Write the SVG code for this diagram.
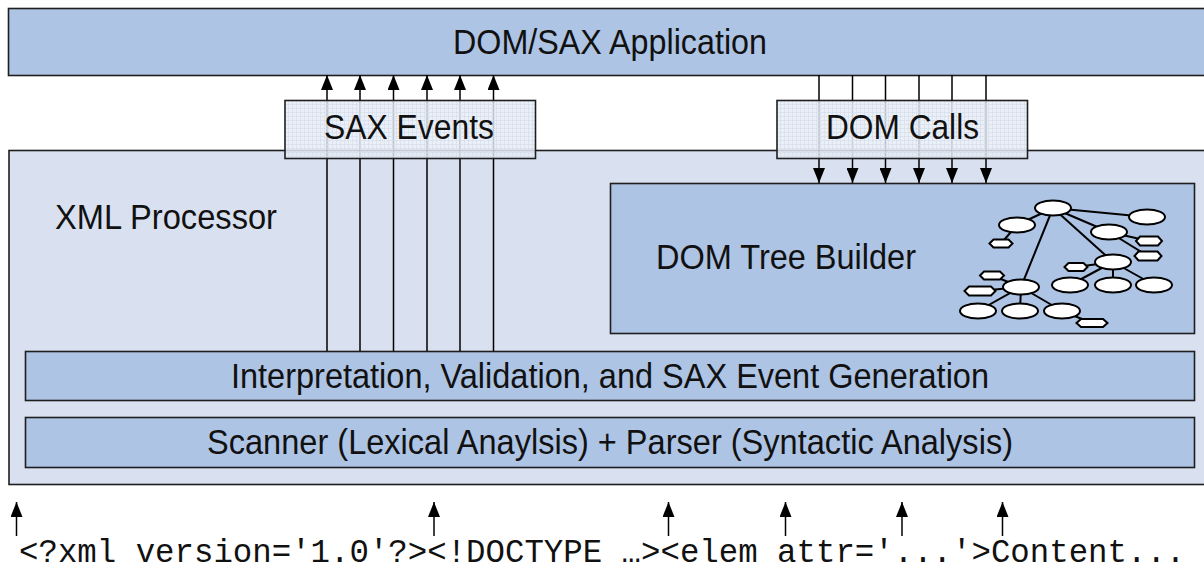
<svg xmlns="http://www.w3.org/2000/svg" width="1204" height="572" viewBox="0 0 1204 572">
<style>
.box{stroke:#1e1e1e;stroke-width:1.6}
.dark{fill:#aec4e4}
.light{fill:#d9e1f1}
.lbl{font-family:"Liberation Sans",Arial,sans-serif;font-size:35px;fill:#111}
.conn{stroke:#000;stroke-width:1.5;fill:none}
.tree line{stroke:#000;stroke-width:2}
.tree ellipse,.tree polygon{fill:#fff;stroke:#000;stroke-width:2}
.code{font-family:"Liberation Mono","Courier New",monospace;font-size:32.4px;fill:#111}
</style>
<defs>
<marker id="ahd" markerUnits="userSpaceOnUse" markerWidth="12" markerHeight="15" viewBox="0 0 12 15" refX="6" refY="15" orient="0">
<path d="M0,0 L12,0 L6,15 Z" fill="#000"/>
</marker>
<marker id="ahu" markerUnits="userSpaceOnUse" markerWidth="12" markerHeight="15" viewBox="0 0 12 15" refX="6" refY="0" orient="0">
<path d="M0,15 L6,0 L12,15 Z" fill="#000"/>
</marker>
<pattern id="grid" width="4" height="4" patternUnits="userSpaceOnUse">
<rect width="4" height="4" fill="#e6ecf6" fill-opacity="0.82"/>
<path d="M0,0.5 H4 M0.5,0 V4" stroke="#d3dbe9" stroke-width="1" stroke-opacity="0.6"/>
</pattern>
</defs>

<g id="app">
<rect class="box dark" x="8.5" y="8.5" width="1210" height="67"/>
<text class="lbl" x="453" y="54" textLength="314" lengthAdjust="spacingAndGlyphs">DOM/SAX Application</text>
</g>

<g id="xml-processor">
<rect class="box light" x="9" y="150.5" width="1210" height="334"/>
<text class="lbl" x="55" y="229" textLength="222" lengthAdjust="spacingAndGlyphs">XML Processor</text>
</g>

<g id="dom-tree-builder">
<rect class="box dark" x="610.5" y="183.5" width="584" height="150"/>
<text class="lbl" x="656" y="269" textLength="260" lengthAdjust="spacingAndGlyphs">DOM Tree Builder</text>
<g class="tree">
<line x1="1053" y1="208" x2="1017" y2="225"/>
<line x1="1053" y1="208" x2="1147" y2="217"/>
<line x1="1053" y1="208" x2="1109" y2="232"/>
<line x1="1053" y1="208" x2="1113" y2="262"/>
<line x1="1053" y1="208" x2="1021" y2="287"/>
<line x1="1017" y1="225" x2="1001" y2="243.5"/>
<line x1="1109" y1="232" x2="1149" y2="241"/>
<line x1="1109" y1="232" x2="1148" y2="256"/>
<line x1="1113" y1="262" x2="1076" y2="267"/>
<line x1="1113" y1="262" x2="1070" y2="285"/>
<line x1="1113" y1="262" x2="1113" y2="285"/>
<line x1="1113" y1="262" x2="1154" y2="285"/>
<line x1="1021" y1="287" x2="992" y2="275.5"/>
<line x1="1021" y1="287" x2="980" y2="291"/>
<line x1="1021" y1="287" x2="978" y2="311"/>
<line x1="1021" y1="287" x2="1020" y2="311"/>
<line x1="1021" y1="287" x2="1062" y2="311"/>
<line x1="1062" y1="311" x2="1092" y2="323"/>
<ellipse cx="1053" cy="208" rx="18" ry="7.5"/>
<ellipse cx="1017" cy="225" rx="18" ry="7.5"/>
<ellipse cx="1147" cy="217" rx="18" ry="7.5"/>
<ellipse cx="1109" cy="232" rx="18" ry="7.5"/>
<ellipse cx="1113" cy="262" rx="18" ry="7.5"/>
<ellipse cx="1070" cy="285" rx="18" ry="7.5"/>
<ellipse cx="1113" cy="285" rx="18" ry="7.5"/>
<ellipse cx="1154" cy="285" rx="18" ry="7.5"/>
<ellipse cx="1021" cy="287" rx="18" ry="7.5"/>
<ellipse cx="978" cy="311" rx="18" ry="7.5"/>
<ellipse cx="1020" cy="311" rx="18" ry="7.5"/>
<ellipse cx="1062" cy="311" rx="18" ry="7.5"/>
<polygon points="989.5,243.5 993.5,239.5 1008.5,239.5 1012.5,243.5 1008.5,247.5 993.5,247.5"/>
<polygon points="1136,241 1140,236.5 1158,236.5 1162,241 1158,245.5 1140,245.5"/>
<polygon points="1134.5,256 1138.5,251.5 1157.5,251.5 1161.5,256 1157.5,260.5 1138.5,260.5"/>
<polygon points="1064.5,267 1068.5,263 1083.5,263 1087.5,267 1083.5,271 1068.5,271"/>
<polygon points="980,275.5 984,271.5 1000,271.5 1004,275.5 1000,279.5 984,279.5"/>
<polygon points="964.5,291 969,286.5 991,286.5 995.5,291 991,295.5 969,295.5"/>
<polygon points="1076.5,323 1081,319 1103,319 1107.5,323 1103,327 1081,327"/>
</g>
</g>

<g id="interpretation">
<rect class="box dark" x="25.5" y="351.5" width="1169" height="49"/>
<text class="lbl" x="231" y="388" textLength="758" lengthAdjust="spacingAndGlyphs">Interpretation, Validation, and SAX Event Generation</text>
</g>

<g id="scanner-parser">
<rect class="box dark" x="25.5" y="417.5" width="1169" height="50"/>
<text class="lbl" x="207" y="454" textLength="806" lengthAdjust="spacingAndGlyphs">Scanner (Lexical Anaylsis) + Parser (Syntactic Analysis)</text>
</g>

<g id="connectors">
<line class="conn" x1="327" y1="351" x2="327" y2="75" marker-end="url(#ahu)"/>
<line class="conn" x1="360" y1="351" x2="360" y2="75" marker-end="url(#ahu)"/>
<line class="conn" x1="393.5" y1="351" x2="393.5" y2="75" marker-end="url(#ahu)"/>
<line class="conn" x1="427" y1="351" x2="427" y2="75" marker-end="url(#ahu)"/>
<line class="conn" x1="460" y1="351" x2="460" y2="75" marker-end="url(#ahu)"/>
<line class="conn" x1="493.5" y1="351" x2="493.5" y2="75" marker-end="url(#ahu)"/>
<line class="conn" x1="819" y1="75" x2="819" y2="183" marker-end="url(#ahd)"/>
<line class="conn" x1="852.5" y1="75" x2="852.5" y2="183" marker-end="url(#ahd)"/>
<line class="conn" x1="885.5" y1="75" x2="885.5" y2="183" marker-end="url(#ahd)"/>
<line class="conn" x1="919" y1="75" x2="919" y2="183" marker-end="url(#ahd)"/>
<line class="conn" x1="952" y1="75" x2="952" y2="183" marker-end="url(#ahd)"/>
<line class="conn" x1="986" y1="75" x2="986" y2="183" marker-end="url(#ahd)"/>
<line class="conn" x1="16.5" y1="536" x2="16.5" y2="502" marker-end="url(#ahu)"/>
<line class="conn" x1="434" y1="536" x2="434" y2="502" marker-end="url(#ahu)"/>
<line class="conn" x1="668.5" y1="536" x2="668.5" y2="502" marker-end="url(#ahu)"/>
<line class="conn" x1="785.5" y1="536" x2="785.5" y2="502" marker-end="url(#ahu)"/>
<line class="conn" x1="902" y1="536" x2="902" y2="502" marker-end="url(#ahu)"/>
<line class="conn" x1="1002.5" y1="536" x2="1002.5" y2="502" marker-end="url(#ahu)"/>
</g>

<g id="sax-events">
<rect class="box" x="285" y="100.5" width="250.5" height="58" fill="url(#grid)"/>
<text class="lbl" x="324" y="139" textLength="170" lengthAdjust="spacingAndGlyphs">SAX Events</text>
</g>

<g id="dom-calls">
<rect class="box" x="777" y="100.5" width="250.5" height="58" fill="url(#grid)"/>
<text class="lbl" x="826" y="139" textLength="153" lengthAdjust="spacingAndGlyphs">DOM Calls</text>
</g>

<g id="xml-input">
<text class="code" x="19" y="562">&lt;?xml version='1.0'?&gt;&lt;!DOCTYPE …&gt;&lt;elem attr='...'&gt;Content...</text>
</g>
</svg>
